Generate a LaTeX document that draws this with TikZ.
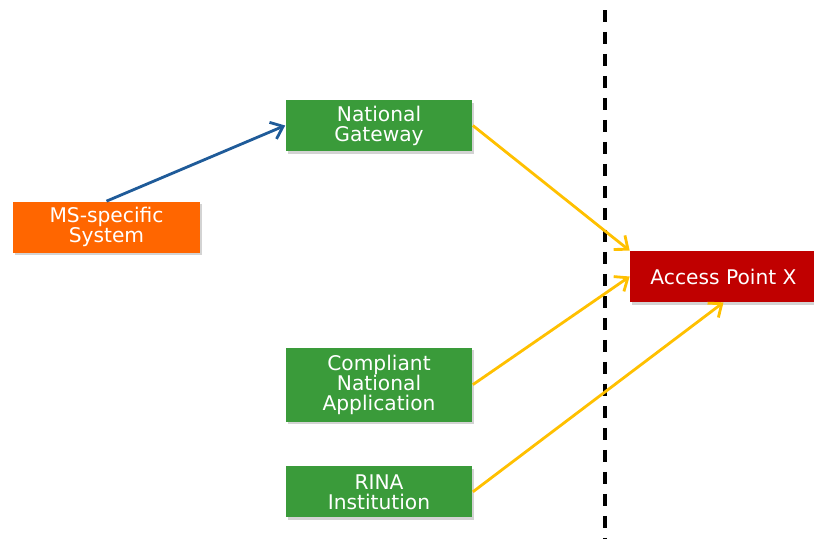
\documentclass[tikz,border=0pt]{standalone}
\usepackage{fontspec}
\newfontfamily\boxfont{DejaVu Sans}
\usepackage{tikz}
\usetikzlibrary{
  arrows.meta,
  positioning,
  shadows,
}
\definecolor{msorange}{RGB}{255, 102, 0}
\definecolor{nodegreen}{RGB}{58, 155, 58}
\definecolor{apred}{RGB}{192, 0, 0}
\definecolor{linkblue}{RGB}{31, 91, 153}
\definecolor{linkyellow}{RGB}{255, 192, 0}
\tikzstyle{box} = [
  rectangle,
  minimum width=3.74cm,
  minimum height=1.02cm,
  inner sep=0pt,
  align=center,
  text=white,
  font=\boxfont\fontsize{11.5}{11.4}\selectfont,
  drop shadow={shadow xshift=0.04cm, shadow yshift=-0.05cm, opacity=0.35},
]
\tikzstyle{arrow} = [
  -{Straight Barb[length=0.22cm,width=0.36cm]},
  line width=1.6pt,
  linkyellow,
]
\tikzstyle{border} = [
  line width=2pt,
  dash pattern=on 0.24cm off 0.2cm,
]

\begin{document}
\begin{tikzpicture}[x=0.02cm,y=-0.02cm]
  \useasboundingbox (0,0) rectangle (814,538);

  \coordinate (linetop) at (605,10);
  \coordinate (linebottom) at (605,540);
  \draw[border] (linetop) -- (linebottom);

  \node[box,fill=msorange] (msys) at (106.5,227) {MS-specific\\System};
  \node[box,fill=nodegreen] (gw) at (379,125.5) {National\\Gateway};
  \node[box,fill=nodegreen,minimum height=1.48cm] (cna) [below=3.92cm of gw] {Compliant\\National\\Application};
  \node[box,fill=nodegreen] (rina) [below=0.88cm of cna] {RINA\\Institution};
  \node[box,fill=apred] (ap) at (723.5,276.5) {Access Point X};

  \draw[arrow,linkblue] (msys.north) -- (gw.west);
  \draw[arrow] (gw.east) -- (ap.north west);
  \draw[arrow] (cna.east) -- (ap.west);
  \draw[arrow] (rina.east) -- (ap.south);
\end{tikzpicture}
\end{document}
